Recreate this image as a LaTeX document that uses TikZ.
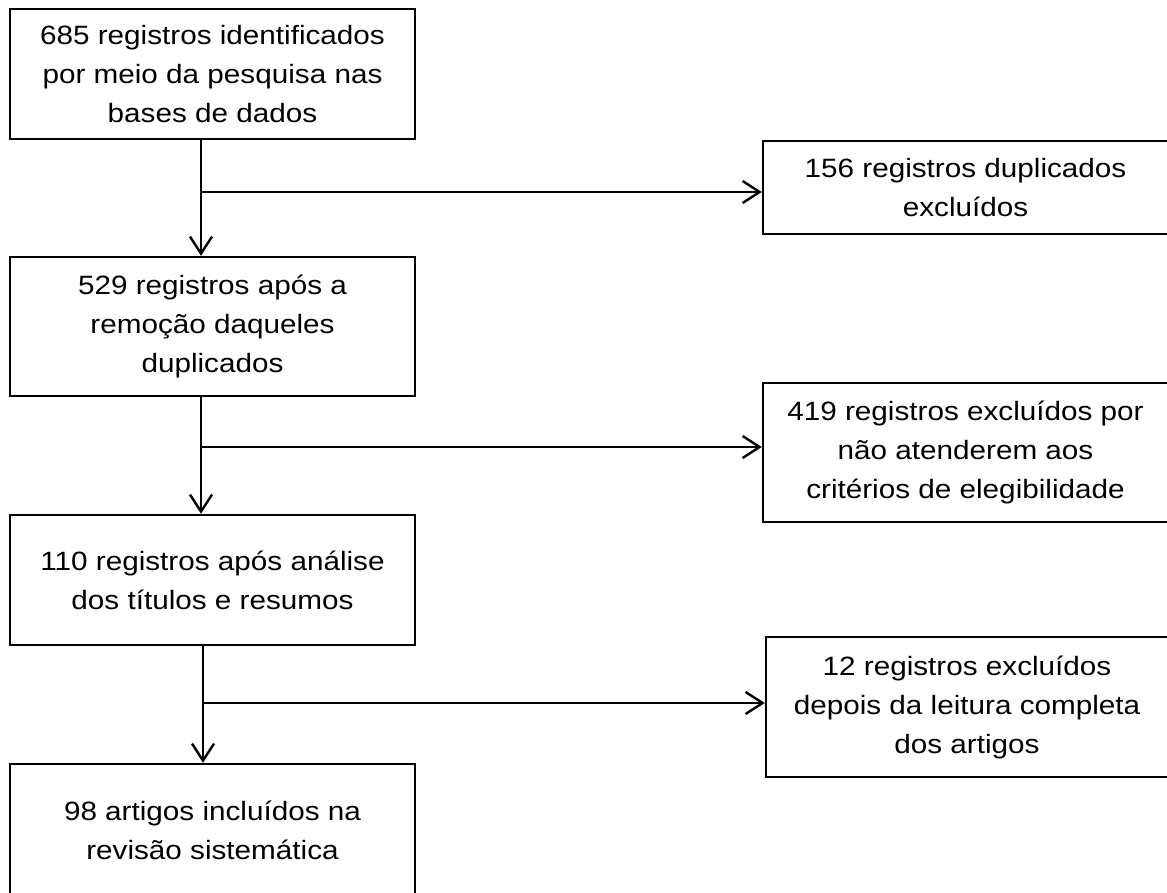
\documentclass[tikz,border=0pt]{standalone}
\usepackage{fontspec}
\setmainfont[FakeStretch=1.12]{Liberation Sans}
\usetikzlibrary{arrows.meta}
\begin{document}
\begin{tikzpicture}[x=1pt,y=-1pt,
  box/.style={draw=black, line width=2.4pt, rectangle, inner sep=0pt, align=center,
    font=\fontsize{26.5}{39}\selectfont},
  arr/.style={line width=2.4pt, -{Straight Barb[length=17pt,width=22pt,line width=2.4pt]}},
  link/.style={line width=2.4pt}]
\clip (0,0) rectangle (1167,893);
\useasboundingbox (0,0) rectangle (1167,893);
\fill[white] (0,0) rectangle (1167,893);
\node[box, minimum width=405pt, minimum height=130pt] (b1) at (212.5,74)
  {685 registros identificados\\por meio da pesquisa nas\\bases de dados};
\node[box, minimum width=405pt, minimum height=139pt] (b2) at (212.5,326.5)
  {529 registros após a\\remoção daqueles\\duplicados};
\node[box, minimum width=405pt, minimum height=130pt] (b3) at (212.5,580)
  {110 registros após análise\\dos títulos e resumos};
\node[box, minimum width=405pt, minimum height=133pt] (b4) at (212.5,830.5)
  {98 artigos incluídos na\\revisão sistemática};
\node[box, minimum width=405pt, minimum height=93pt] (r1) at (965.5,187.5)
  {156 registros duplicados\\excluídos};
\node[box, minimum width=405pt, minimum height=139pt] (r2) at (965.5,452.5)
  {419 registros excluídos por\\não atenderem aos\\critérios de elegibilidade};
\node[box, minimum width=402pt, minimum height=140pt] (r3) at (967,707)
  {12 registros excluídos\\depois da leitura completa\\dos artigos};
\coordinate (j1) at (201,192);
\coordinate (j2) at (201,447);
\coordinate (j3) at (203,703);
\draw[arr] (j1 |- b1.south) -- (j1 |- b2.north);
\draw[arr] (j2 |- b2.south) -- (j2 |- b3.north);
\draw[arr] (j3 |- b3.south) -- (j3 |- b4.north);
\draw[arr] (j1) -- (j1 -| r1.west);
\draw[arr] (j2) -- (j2 -| r2.west);
\draw[arr] (j3) -- (j3 -| r3.west);
\end{tikzpicture}
\end{document}
